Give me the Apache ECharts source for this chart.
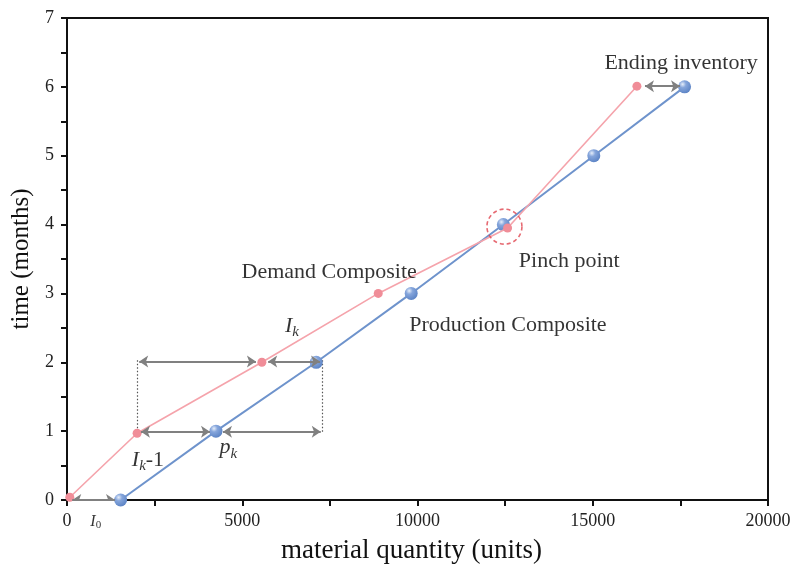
<!DOCTYPE html>
<html>
<head>
<meta charset="utf-8">
<script src="https://cdn.jsdelivr.net/npm/echarts@6/dist/echarts.min.js"></script>
<style>html,body{margin:0;padding:0;background:#fff}#c{width:808px;height:577px}</style>
</head>
<body>
<div id="c"></div>
<script>
// Demand composite (pink)
var demandX = [80, 2000, 5560, 8880, 12570, 16260];
var demandY = [0.04, 0.97, 2.0, 3.0, 3.95, 6.01];
// Production composite (blue)
var prodX = [1530, 4250, 7110, 9820, 12450, 15030, 17620];
var prodY = [0, 1, 2, 3, 4, 5, 6];
// axis ticks
var xTicks = [0, 5000, 10000, 15000, 20000];
var yTicks = [0, 1, 2, 3, 4, 5, 6, 7];
// double arrows [x1, y1, x2, y2]
var arrows = [
  [150, 0, 1370, 0],
  [2110, 0.99, 4080, 0.99],
  [4450, 0.99, 7240, 0.99],
  [2060, 2.01, 5390, 2.01],
  [5740, 2.01, 7220, 2.01],
  [16490, 6.01, 17490, 6.01]
];
// dotted guide lines [x1, y1, x2, y2]
var guides = [
  [1997, 0.99, 1997, 2.03],
  [7275, 0.99, 7275, 2.03]
];
// pinch point
var pinch = [12480, 3.97];
// annotation texts [x, y, text]
var notes = [
  [17520, 6.34, 'Ending inventory'],
  [14330, 3.47, 'Pinch point'],
  [7480, 3.31, 'Demand Composite'],
  [12580, 2.54, 'Production Composite']
];
var mathNotes = [
  [6420, 2.53, '{i|I}{s|k}'],
  [2310, 0.58, '{i|I}{s|k}{n|-1}'],
  [4600, 0.76, '{i|p}{s|k}'],
  [820, -0.31, '{i2|I}{s2|0}']
];

var FONT = 'Liberation Serif';
var chart = echarts.init(document.getElementById('c'));
function pairs(xs, ys){ return xs.map(function(x,i){ return [x, ys[i]]; }); }
var richMath = {
  i: {fontFamily: FONT, fontStyle: 'italic', fontSize: 22, color: '#000', lineHeight: 27, verticalAlign: 'middle'},
  s: {fontFamily: FONT, fontStyle: 'italic', fontSize: 15, color: '#000', lineHeight: 15, verticalAlign: 'bottom'},
  n: {fontFamily: FONT, fontSize: 22, color: '#000', lineHeight: 27, verticalAlign: 'middle'},
  i2: {fontFamily: FONT, fontStyle: 'italic', fontSize: 16, color: '#000', lineHeight: 19, verticalAlign: 'middle'},
  s2: {fontFamily: FONT, fontSize: 11, color: '#000', lineHeight: 11, verticalAlign: 'bottom'}
};
var blueBall = new echarts.graphic.RadialGradient(0.35, 0.3, 0.75, [
  {offset: 0, color: '#e6eefa'},
  {offset: 0.35, color: '#86a6dc'},
  {offset: 1, color: '#5a82c4'}
]);
var axisCommon = {
  axisLine: {show: true, onZero: false, lineStyle: {color: '#111', width: 2}},
  axisTick: {show: true, length: 6, lineStyle: {color: '#111', width: 2}},
  minorTick: {show: true, splitNumber: 2, length: 6, lineStyle: {color: '#111', width: 2}},
  splitLine: {show: false}
};
var option = {
  animation: false,
  backgroundColor: '#fff',
  grid: {left: 67, right: 40, top: 18, bottom: 77, show: true, borderColor: '#111', borderWidth: 2, backgroundColor: 'transparent'},
  xAxis: Object.assign({
    type: 'value', min: xTicks[0], max: xTicks[xTicks.length-1], interval: 5000,
    name: 'material quantity (units)', nameLocation: 'middle', nameGap: 37,
    nameTextStyle: {fontFamily: FONT, fontSize: 27, color: '#111', padding: [0, 12, 0, 0]},
    axisLabel: {fontFamily: FONT, fontSize: 18, color: '#222', margin: 12, formatter: function(v){ return String(v); }}
  }, axisCommon),
  yAxis: Object.assign({
    type: 'value', min: yTicks[0], max: yTicks[yTicks.length-1], interval: 1,
    name: 'time (months)', nameLocation: 'middle', nameGap: 30,
    nameTextStyle: {fontFamily: FONT, fontSize: 25, color: '#111'},
    axisLabel: {fontFamily: FONT, fontSize: 18, color: '#222', margin: 13, formatter: function(v){ return String(v); }}
  }, axisCommon),
  series: [
    {
      type: 'lines', coordinateSystem: 'cartesian2d', z: 3,
      data: guides.map(function(g){ return {coords: [[g[0], g[1]], [g[2], g[3]]]}; }),
      lineStyle: {color: '#555', width: 1.2, type: [1.5, 2], opacity: 1},
      symbol: ['none', 'none']
    },
    {
      type: 'line', name: 'Production Composite', data: pairs(prodX, prodY), z: 4,
      symbol: 'circle', symbolSize: 13, showAllSymbol: true, clip: false,
      lineStyle: {color: '#6e93cc', width: 2},
      itemStyle: {color: blueBall}
    },
    {
      type: 'line', name: 'Demand Composite', data: pairs(demandX, demandY), z: 5,
      symbol: 'circle', symbolSize: 9, showAllSymbol: true, clip: false,
      lineStyle: {color: '#f5a3ab', width: 1.6},
      itemStyle: {color: '#f08d98'}
    },
    {
      type: 'lines', coordinateSystem: 'cartesian2d', z: 6,
      data: arrows.map(function(a){ return {coords: [[a[0], a[1]], [a[2], a[3]]]}; }),
      lineStyle: {color: '#808080', width: 2, opacity: 1},
      symbol: ['arrow', 'arrow'], symbolSize: [9, 9]
    },
    {
      type: 'scatter', z: 7, data: [pinch], symbol: 'circle', symbolSize: 35, silent: true,
      itemStyle: {color: 'rgba(0,0,0,0)', borderColor: '#e0454f', borderWidth: 1.6, borderType: [4, 3]}
    },
    {
      type: 'scatter', z: 8, clip: false, symbolSize: 0, silent: true,
      data: notes.map(function(n){ return {value: [n[0], n[1]], name: n[2]}; }),
      label: {show: true, position: 'inside', formatter: function(p){ return p.name; },
        fontFamily: FONT, fontSize: 22, color: '#000', textBorderWidth: 0}
    },
    {
      type: 'scatter', z: 8, clip: false, symbolSize: 0, silent: true,
      data: mathNotes.map(function(n){ return {value: [n[0], n[1]], name: n[2]}; }),
      label: {show: true, position: 'inside', formatter: function(p){ return p.name; }, rich: richMath, textBorderWidth: 0}
    }
  ]
};
chart.setOption(option);
</script>
</body>
</html>
